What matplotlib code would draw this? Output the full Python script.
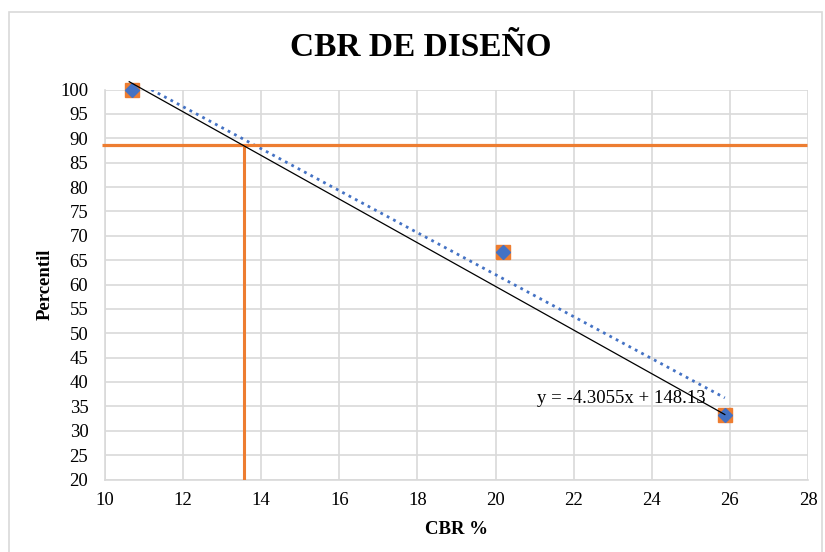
import matplotlib
matplotlib.use('Agg')
import matplotlib.pyplot as plt
from matplotlib.patches import Rectangle

# data
cbr = [10.7, 20.2, 25.87]
percentil = [100.0, 66.67, 33.33]

trend_slope = -4.3055
trend_icpt = 148.13

# hand-drawn design line through the design point
design_x = [10.62, 25.87]
design_y = [101.6, 33.33]

cbr_diseno = 13.55
perc_diseno = 88.55
hline_x = [9.92, 27.97]

x_ticks = list(range(10, 29, 2))
y_ticks = list(range(20, 101, 5))

ORANGE = '#ED7D31'
BLUE = '#4472C4'
GRID = '#D9D9D9'

plt.rcParams['font.family'] = ['Liberation Serif', 'DejaVu Serif']

fig = plt.figure(figsize=(8.25, 5.52), dpi=100)
ax = fig.add_axes([105/825, 1 - 479.5/552, 703/825, 390/552])

# outer chart border
fig.patches.append(Rectangle((9/825, -0.01), 813/825, 1 - 12/552 + 0.01,
                             transform=fig.transFigure, fill=False,
                             edgecolor=GRID, lw=1.2))

ax.set_xlim(10, 28)
ax.set_ylim(20, 100)
ax.set_xticks(x_ticks)
ax.set_yticks(y_ticks)
ax.grid(True, color=GRID, lw=1.2)
ax.set_axisbelow(True)
for s in ['top', 'right']:
    ax.spines[s].set_visible(False)
for s in ['left', 'bottom']:
    ax.spines[s].set_color(GRID)
    ax.spines[s].set_linewidth(1.2)
ax.tick_params(length=0, labelsize=13.5)
ax.tick_params(axis='y', pad=12)
ax.tick_params(axis='x', pad=9)

# trendline (dotted)
tx = [min(cbr), max(cbr)]
ty = [trend_slope * v + trend_icpt for v in tx]
ax.plot(tx, ty, color=BLUE, lw=2.0, linestyle=(0, (1, 1.6)), zorder=2)

# orange design lines
ax.plot(hline_x, [perc_diseno, perc_diseno], color=ORANGE, lw=2.3,
        clip_on=False, zorder=3, solid_capstyle='butt')
ax.plot([cbr_diseno, cbr_diseno], [20, perc_diseno], color=ORANGE, lw=2.2,
        zorder=3, solid_capstyle='butt')

# markers
ax.plot(cbr, percentil, linestyle='none', marker='s', ms=10,
        color=ORANGE, zorder=4, clip_on=False)
ax.plot(cbr, percentil, linestyle='none', marker='D', ms=7.3,
        color=BLUE, zorder=5, clip_on=False)

ax.plot(design_x, design_y, color='black', lw=0.9, zorder=6, clip_on=False)

ax.text(23.21, 36.6, 'y = -4.3055x + 148.13', fontsize=13.5,
        ha='center', va='center', zorder=7)

fig.text(421/825, 1 - 47/552, 'CBR DE DISEÑO', fontsize=24,
         fontweight='bold', ha='center', va='center')
fig.text(456.5/825, 1 - 529/552, 'CBR %', fontsize=13.5,
         fontweight='bold', ha='center', va='center')
fig.text(45/825, 1 - 284/552, 'Percentil', fontsize=13.5,
         fontweight='bold', ha='center', va='center', rotation=90)

plt.savefig('out.png', dpi=100)
plt.close()
